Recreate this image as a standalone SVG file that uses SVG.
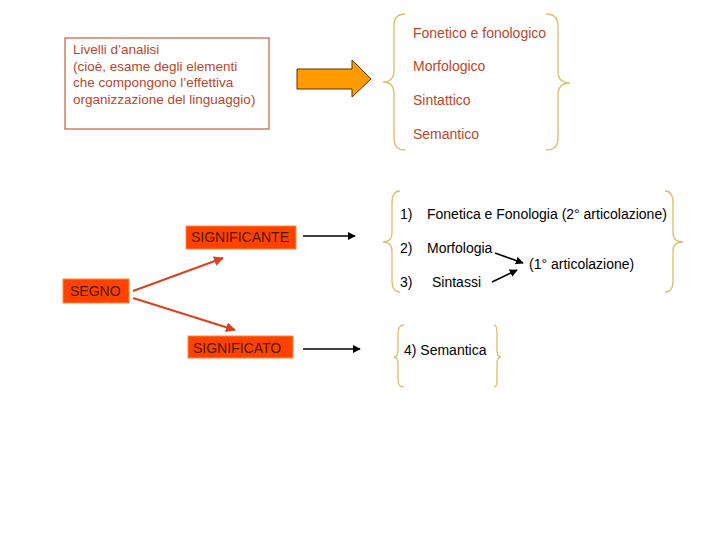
<svg xmlns="http://www.w3.org/2000/svg" width="720" height="540" viewBox="0 0 720 540">
<style>
text{font-family:"Liberation Sans",Arial,sans-serif;font-size:14px}
.brown{fill:#b8472c}
.blk{fill:#000}
.dark{fill:#4a1a08}
.brace{fill:none;stroke:#e2bb6a;stroke-width:1.3}
.redbox{fill:#ff4200;stroke:#ff8a3a;stroke-width:1}
</style>
<defs>
<marker id="ab" viewBox="0 0 10 10" refX="9" refY="5" markerWidth="5" markerHeight="5" orient="auto"><path d="M0,0 L10,5 L0,10 z" fill="#000"/></marker>
<marker id="ar" viewBox="0 0 10 10" refX="9" refY="5" markerWidth="5" markerHeight="5" orient="auto"><path d="M0,0 L10,5 L0,10 z" fill="#d9421f"/></marker>
</defs>
<rect width="720" height="540" fill="#fff"/>

<g id="livelli">
<rect x="65" y="38" width="204" height="91" fill="#fff" stroke="#c0603f" stroke-width="1.2"/>
<text class="brown" x="73" y="54" style="font-size:13.5px">Livelli d’analisi</text>
<text class="brown" x="73" y="71" style="font-size:13.5px">(cioè, esame degli elementi</text>
<text class="brown" x="73" y="87" style="font-size:13.5px">che compongono l’effettiva</text>
<text class="brown" x="73" y="104" style="font-size:13.5px">organizzazione del linguaggio)</text>
</g>

<g id="bigarrow">
<path d="M297,69 L352,69 L352,60 L371,79 L352,97 L352,89 L297,89 Z" fill="#ff9a00" stroke="#5a3000" stroke-width="1"/>
</g>

<g id="livelli-list">
<path class="brace" d="M405,14 Q394,14 394,26 L394,70 Q394,82 383,82 Q394,82 394,94 L394,138 Q394,150 405,150"/>
<path class="brace" d="M546,14 Q558,14 558,26 L558,71 Q558,83 570,83 Q558,83 558,95 L558,138 Q558,150 546,150"/>
<text class="brown" x="413" y="38">Fonetico e fonologico</text>
<text class="brown" x="413" y="71">Morfologico</text>
<text class="brown" x="413" y="105">Sintattico</text>
<text class="brown" x="413" y="139">Semantico</text>
</g>

<g id="segno">
<rect class="redbox" x="63" y="279" width="66" height="24"/>
<text class="dark" x="70" y="296">SEGNO</text>
</g>
<g id="significante">
<rect class="redbox" x="186" y="226" width="110" height="23"/>
<text class="dark" x="191" y="242">SIGNIFICANTE</text>
</g>
<g id="significato">
<rect class="redbox" x="188" y="336" width="105" height="22"/>
<text class="dark" x="193" y="353">SIGNIFICATO</text>
</g>

<g id="articolazioni">
<path class="brace" d="M400,191 Q392,191 392,203 L392,233 Q392,242 383,242 Q392,242 392,251 L392,281 Q392,292 400,292"/>
<path class="brace" d="M665,191 Q673,191 673,203 L673,233 Q673,242 683,242 Q673,242 673,251 L673,281 Q673,292 665,292"/>
<text class="blk" x="400" y="219">1)</text>
<text class="blk" x="427" y="219">Fonetica e Fonologia (2° articolazione)</text>
<text class="blk" x="400" y="253">2)</text>
<text class="blk" x="427" y="253">Morfologia</text>
<text class="blk" x="400" y="287">3)</text>
<text class="blk" x="432" y="287">Sintassi</text>
<text class="blk" x="529" y="269">(1° articolazione)</text>
</g>

<g id="semantica">
<path class="brace" d="M404,325 Q398,325 398,333 L398,350 Q398,357 394,357 Q398,357 398,364 L398,380 Q398,387 404,387"/>
<path class="brace" d="M494,325 Q497,325 497,333 L497,350 Q497,357 501,357 Q497,357 497,364 L497,380 Q497,387 494,387"/>
<text class="blk" x="404" y="355">4) Semantica</text>
</g>

<g id="connectors">
<line x1="133" y1="291" x2="223" y2="258" stroke="#d9421f" stroke-width="2" marker-end="url(#ar)"/>
<line x1="133" y1="298" x2="235" y2="330" stroke="#d9421f" stroke-width="2" marker-end="url(#ar)"/>
<line x1="303" y1="236" x2="355" y2="236" stroke="#000" stroke-width="1.6" marker-end="url(#ab)"/>
<line x1="303" y1="349" x2="360" y2="349" stroke="#000" stroke-width="1.6" marker-end="url(#ab)"/>
<line x1="495" y1="253" x2="523" y2="263" stroke="#000" stroke-width="1.6" marker-end="url(#ab)"/>
<line x1="492" y1="282" x2="517" y2="270" stroke="#000" stroke-width="1.6" marker-end="url(#ab)"/>
</g>
</svg>
